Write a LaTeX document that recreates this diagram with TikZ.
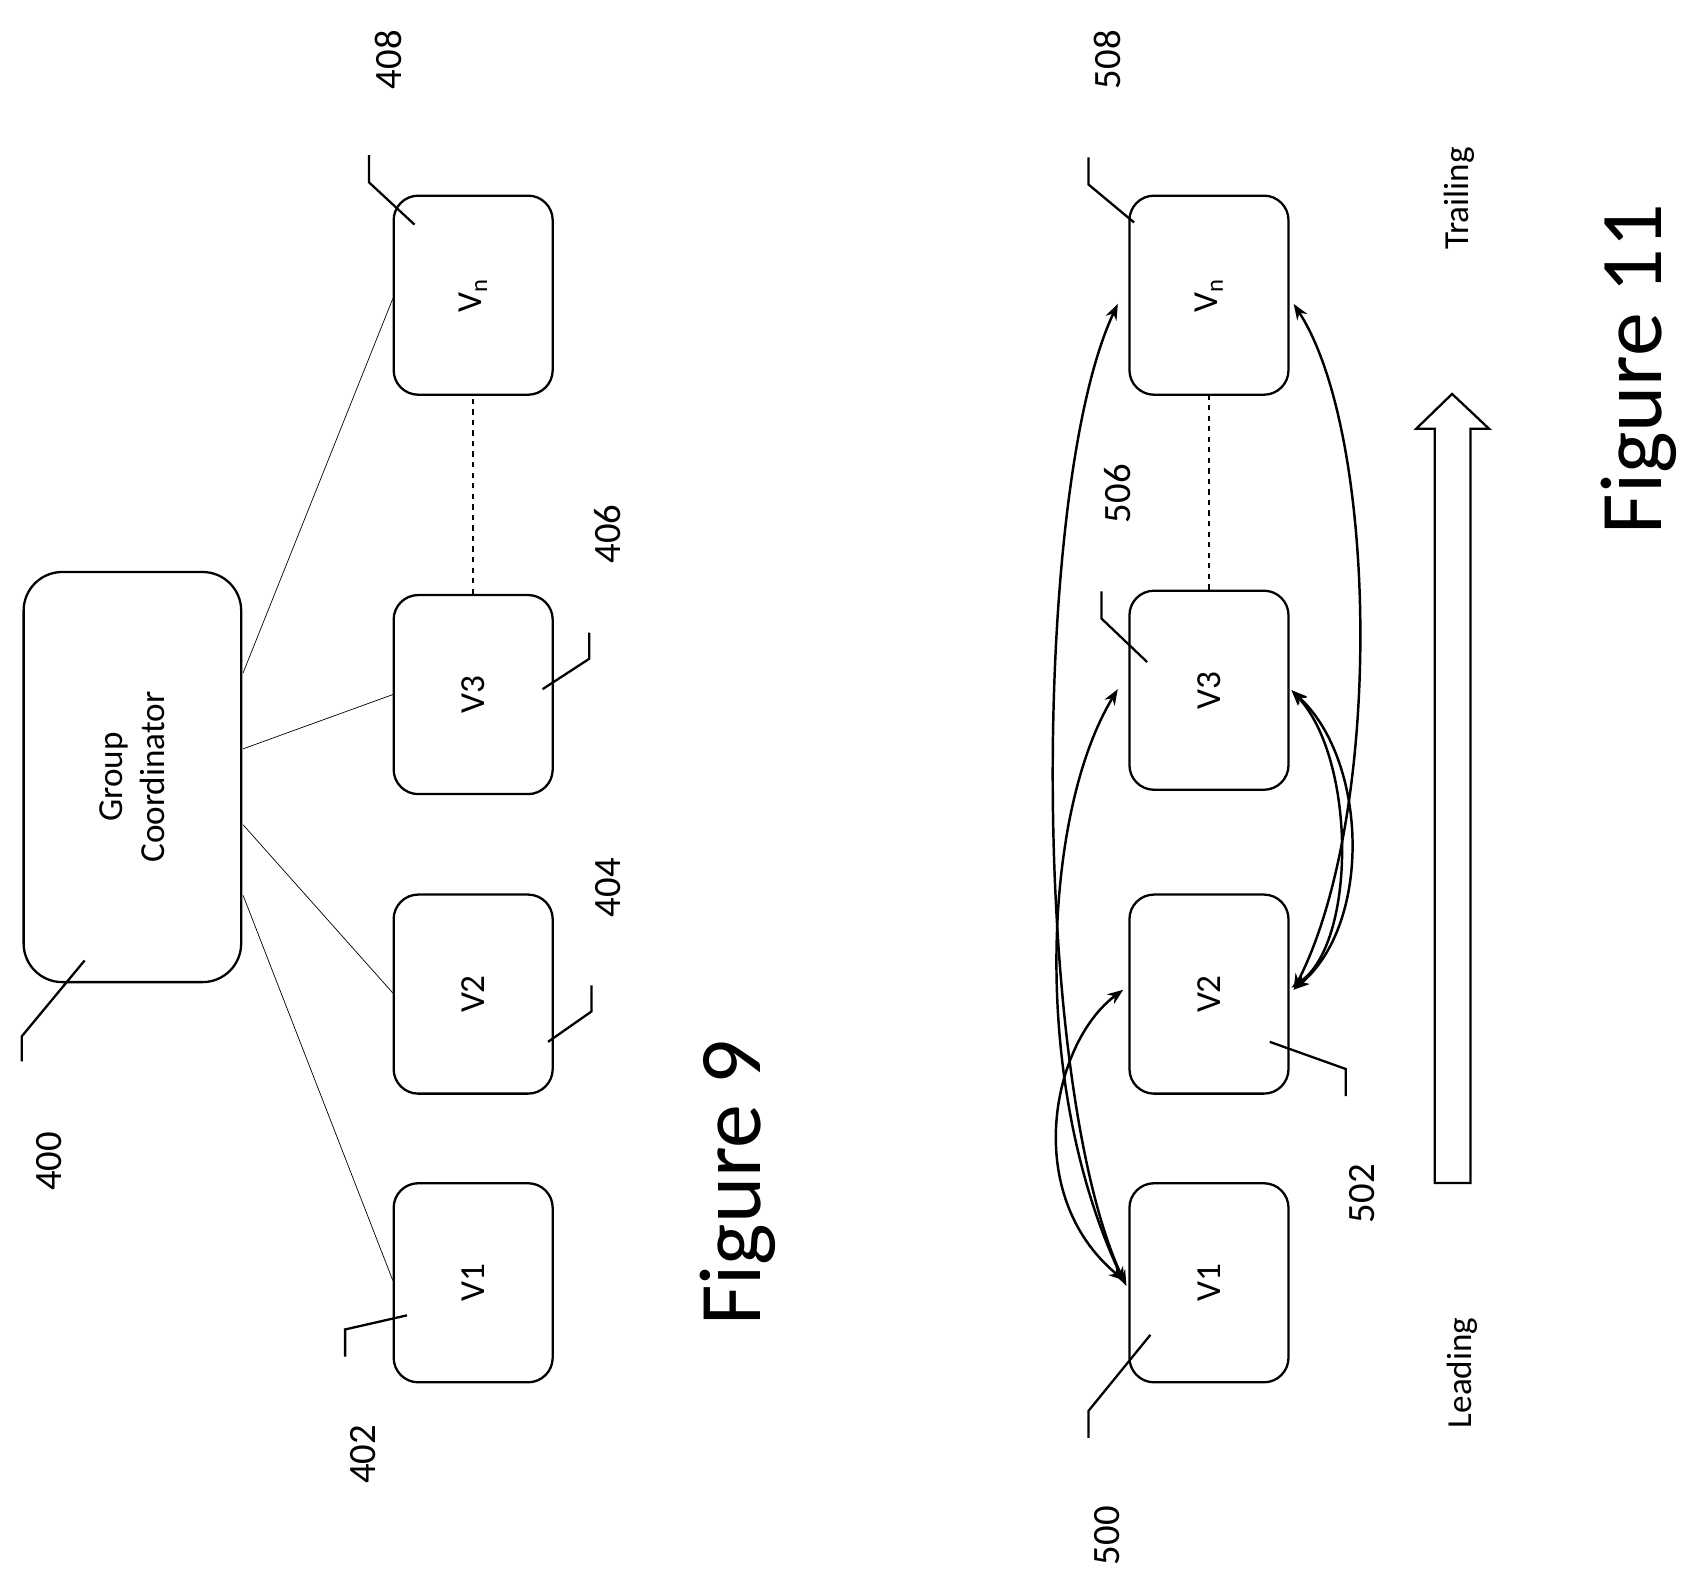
\documentclass[tikz,border=0pt]{standalone}
\usepackage{fontspec}
\setmainfont{Carlito}
\usetikzlibrary{arrows.meta}
\begin{document}
\begin{tikzpicture}[x=0.0217cm,y=-0.0217cm,
    veh/.style={draw,line width=1.3pt,rounded corners=14pt,minimum width=3.98cm,minimum height=3.18cm,rotate=90,font=\fontsize{20}{24}\selectfont},
    num/.style={rotate=90,font=\fontsize{22}{26}\selectfont},
    lead/.style={line width=1.3pt},
    link/.style={line width=1.4pt,{Stealth[length=9pt]}-{Stealth[length=9pt]}}]
    \useasboundingbox (0,0) rectangle (1560,1462);

    % Figure 9
    \node (gc) at (122,716) [draw,line width=1.3pt,rounded corners=22pt,minimum width=8.2cm,minimum height=4.35cm,rotate=90,align=center,font=\fontsize{20}{24}\selectfont] {Group\\Coordinator};
    \node (a1) at (436,1182) [veh] {V1};
    \node (a2) at (436,916) [veh] {V2};
    \node (a3) at (436,640) [veh] {V3};
    \node (an) at (436,272) [veh] {V\textsubscript{n}};
    \draw (224,620) -- (362,275);
    \draw (224,690) -- (362,640);
    \draw (224,760) -- (362,915);
    \draw (224,825) -- (362,1180);
    \draw[dashed,line width=0.8pt] (a3.east) -- (an.west);

    \node (n400) at (45,1070) [num] {400};
    \node (n402) at (335,1340) [num] {402};
    \node (n404) at (560,818) [num] {404};
    \node (n406) at (560,492) [num] {406};
    \node (n408) at (358,55) [num] {408};
    \draw[lead] (20,978) -- (20,955) -- (78,885);
    \draw[lead] (318,1250) -- (318,1225) -- (375,1212);
    \draw[lead] (545,908) -- (545,932) -- (505,960);
    \draw[lead] (543,583) -- (543,607) -- (500,635);
    \draw[lead] (340,143) -- (340,168) -- (382,207);
    \node (fig9) at (680,1090) [rotate=90,font=\fontsize{50}{60}\selectfont] {Figure 9};

    % Figure 11
    \node (b1) at (1114,1182) [veh] {V1};
    \node (b2) at (1114,916) [veh] {V2};
    \node (b3) at (1114,636) [veh] {V3};
    \node (bn) at (1114,272) [veh] {V\textsubscript{n}};
    \draw[dashed,line width=0.8pt] (b3.east) -- (bn.west);
    \draw[link] (1038,1185) .. controls (950,1000) and (950,450) .. (1030,280);
    \draw[link] (1036,1182) .. controls (950,1000) and (960,750) .. (1030,635);
    \draw[link] (1036,1180) .. controls (940,1100) and (970,960) .. (1035,912);
    \draw[link] (1192,912) .. controls (1265,850) and (1260,700) .. (1190,636);
    \draw[link] (1190,910) .. controls (1250,870) and (1250,700) .. (1190,636);
    \draw[link] (1192,912) .. controls (1275,750) and (1270,400) .. (1192,280);

    \node (n500) at (1020,1415) [num] {500};
    \node (n502) at (1255,1100) [num] {502};
    \node (n506) at (1030,455) [num] {506};
    \node (n508) at (1020,55) [num] {508};
    \draw[lead] (1003,1325) -- (1003,1300) -- (1060,1230);
    \draw[lead] (1240,1010) -- (1240,985) -- (1170,960);
    \draw[lead] (1015,545) -- (1015,570) -- (1057,610);
    \draw[lead] (1003,145) -- (1003,170) -- (1045,205);

    \draw[line width=1.3pt] (1322,1090) -- (1322,395) -- (1305,395) -- (1338,363) -- (1372,395) -- (1355,395) -- (1355,1090) -- cycle;
    \node (lead) at (1347,1265) [rotate=90,font=\fontsize{20}{24}\selectfont] {Leading};
    \node (trail) at (1345,183) [rotate=90,font=\fontsize{20}{24}\selectfont] {Trailing};
    \node (fig11) at (1510,340) [rotate=90,font=\fontsize{50}{60}\selectfont] {Figure 11};
\end{tikzpicture}
\end{document}
